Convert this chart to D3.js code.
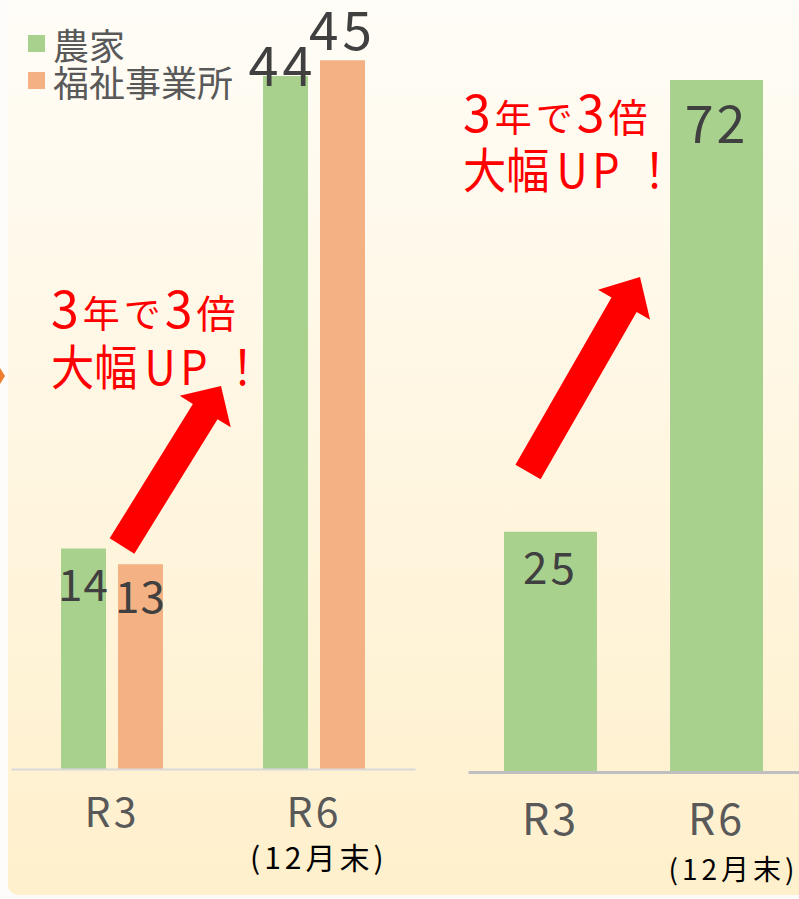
<!DOCTYPE html>
<html>
<head>
<meta charset="utf-8">
<script src="https://cdn.jsdelivr.net/npm/d3@7"></script>
<style>
  body { margin: 0; background: #fdfcfa; }
  svg { display: block; font-family: "Noto Sans CJK JP", "Noto Sans", sans-serif; }
</style>
</head>
<body>
<div id="chart"></div>
<script>
// ---- data ----
const periods = ["R3", "R6"];
const periodNotes = ["", "(12月末)"];
const seriesNames = ["農家", "福祉事業所"];
const farmers = [14, 44];
const welfare = [13, 45];

const rightPeriods = ["R3", "R6"];
const rightFarmers = [25, 72];

const calloutTop = ["3", "年で", "3", "倍"];
const calloutBottom = ["大幅", "UP", "！"];

// ---- style ----
const green = "#a9d18e", orange = "#f4b183";
const labelColor = "#404040", axisText = "#595959";
const W = 799, H = 899;

const svg = d3.select("#chart").append("svg")
    .attr("width", W)
    .attr("height", H);

const grad = svg.append("defs").append("linearGradient")
    .attr("id", "bg").attr("x1", 0).attr("y1", 0).attr("x2", 0).attr("y2", 1);
grad.append("stop").attr("offset", "0%").attr("stop-color", "#fffdf8");
grad.append("stop").attr("offset", "100%").attr("stop-color", "#fff0cc");

svg.append("rect")
    .attr("x", 8).attr("y", -20)
    .attr("width", W).attr("height", 915)
    .attr("rx", 10)
    .attr("fill", "url(#bg)");

// bit of an arrow from the previous slide panel
svg.append("path")
    .attr("d", "M0,368 L5,376 L0,384 Z")
    .attr("fill", "#ed7d31");

// ================= left chart =================
const xL = d3.scaleBand().domain(periods).range([11, 415])
    .paddingInner(0.495).paddingOuter(0.2475);
const xLs = d3.scaleBand().domain(seriesNames).range([0, xL.bandwidth()])
    .paddingInner(0.21);
const yL = d3.scaleLinear().domain([0, 48]).range([769, 13]);

const leftSeries = [
  {name: seriesNames[0], values: farmers, color: green, dy: [52, 10], dx: [0, -3], size: [44, 54]},
  {name: seriesNames[1], values: welfare, color: orange, dy: [49, -10], dx: [0, 0], size: [44, 53]}
];

const gL = svg.append("g");

leftSeries.forEach(s => {
  const bars = s.values.map((v, i) => ({p: periods[i], v: v, i: i}));
  gL.selectAll(null)
    .data(bars)
    .enter()
    .append("rect")
      .attr("x", d => xL(d.p) + xLs(s.name))
      .attr("y", d => yL(d.v))
      .attr("width", xLs.bandwidth())
      .attr("height", d => yL(0) - yL(d.v))
      .attr("fill", s.color);
  gL.selectAll(null)
    .data(bars)
    .enter()
    .append("text")
      .attr("x", d => xL(d.p) + xLs(s.name) + xLs.bandwidth() / 2 + s.dx[d.i])
      .attr("y", d => yL(d.v) + s.dy[d.i])
      .attr("text-anchor", "middle")
      .attr("font-size", d => s.size[d.i])
      .attr("letter-spacing", d => d.i == 1 ? 4 : 1)
      .attr("fill", labelColor)
      .text(d => d.v);
});

const axL = gL.append("g")
    .attr("transform", "translate(0," + yL(0) + ")")
    .call(d3.axisBottom(xL).tickSize(0).tickSizeOuter(0));
axL.select(".domain").attr("stroke", "#d9d9d9").attr("stroke-width", 2);
axL.selectAll(".tick text")
    .attr("y", 58).attr("dy", 0)
    .attr("font-size", 41)
    .attr("letter-spacing", 3)
    .attr("font-family", "\"Noto Sans CJK JP\", sans-serif")
    .attr("fill", axisText);
axL.selectAll(".tick")
  .filter((d, i) => periodNotes[i])
  .append("text")
    .attr("x", -64).attr("y", 100)
    .attr("text-anchor", "start")
    .attr("font-size", 30)
    .attr("letter-spacing", 4)
    .attr("font-family", "\"Noto Sans CJK JP\", sans-serif")
    .attr("fill", "#000")
    .text((d, i) => periodNotes[periods.indexOf(d)]);

// legend
const legend = gL.append("g");
leftSeries.forEach((s, i) => {
  legend.append("rect")
    .attr("x", 28).attr("y", 35 + i * 37)
    .attr("width", 17).attr("height", 17)
    .attr("fill", s.color);
  legend.append("text")
    .attr("x", 53).attr("y", 43.5 + i * 37)
    .attr("dominant-baseline", "central")
    .attr("font-size", 36)
    .attr("fill", axisText)
    .text(s.name);
});

// ================= right chart =================
const xR = d3.scaleBand().domain(rightPeriods).range([468, 799])
    .paddingInner(0.44).paddingOuter(0.2169);
const yR = d3.scaleLinear().domain([0, 72]).range([772, 80]);
const rightDy = [52, 63], rightSize = [44, 52];

const gR = svg.append("g");
gR.selectAll(".bar")
  .data(rightFarmers)
  .enter()
  .append("rect")
    .attr("class", "bar")
    .attr("x", (d, i) => xR(rightPeriods[i]))
    .attr("y", d => yR(d))
    .attr("width", xR.bandwidth())
    .attr("height", d => yR(0) - yR(d))
    .attr("fill", green);
gR.selectAll(".val")
  .data(rightFarmers)
  .enter()
  .append("text")
    .attr("class", "val")
    .attr("x", (d, i) => xR(rightPeriods[i]) + xR.bandwidth() / 2)
    .attr("y", (d, i) => yR(d) + rightDy[i])
    .attr("text-anchor", "middle")
    .attr("font-size", (d, i) => rightSize[i])
    .attr("letter-spacing", 3)
    .attr("fill", labelColor)
    .text(d => d);

const axR = gR.append("g")
    .attr("transform", "translate(0," + yR(0) + ")")
    .call(d3.axisBottom(xR).tickSize(0).tickSizeOuter(0));
axR.select(".domain").attr("stroke", "#bfbfbf").attr("stroke-width", 3);
axR.selectAll(".tick text")
    .attr("y", 63).attr("dy", 0)
    .attr("font-size", 43)
    .attr("letter-spacing", 3)
    .attr("font-family", "\"Noto Sans CJK JP\", sans-serif")
    .attr("fill", axisText);
axR.selectAll(".tick")
  .filter((d, i) => periodNotes[i])
  .append("text")
    .attr("x", -48).attr("y", 108)
    .attr("text-anchor", "start")
    .attr("font-size", 28)
    .attr("letter-spacing", 4)
    .attr("font-family", "\"Noto Sans CJK JP\", sans-serif")
    .attr("fill", "#000")
    .text((d, i) => periodNotes[rightPeriods.indexOf(d)]);

// ================= callouts =================
function callout(x, y1, y2) {
  const g = svg.append("g").attr("fill", "#ff0000");
  const t1 = g.append("text").attr("x", x).attr("y", y1).attr("letter-spacing", 4);
  const sizes1 = [50, 37, 50, 39];
  calloutTop.forEach((s, i) => t1.append("tspan").attr("font-size", sizes1[i]).text(s));
  const t2 = g.append("text")
      .attr("transform", "translate(" + x + "," + y2 + ") scale(0.9,1)");
  t2.append("tspan").attr("font-size", 48).text(calloutBottom[0]);
  t2.append("tspan").attr("font-size", 48).attr("dx", 8).attr("letter-spacing", 5).text(calloutBottom[1]);
  t2.append("tspan").attr("font-size", 48).attr("dx", 10).text(calloutBottom[2]);
}
callout(51, 328, 385);
callout(463, 132, 188);

function arrow(x1, y1, x2, y2, shaftW, headW, headL) {
  const dx = x2 - x1, dy = y2 - y1, len = Math.hypot(dx, dy);
  const ux = dx / len, uy = dy / len, px = -uy, py = ux;
  const bx = x2 - ux * headL, by = y2 - uy * headL;
  const pts = [
    [x1 + px * shaftW / 2, y1 + py * shaftW / 2],
    [bx + px * shaftW / 2, by + py * shaftW / 2],
    [bx + px * headW / 2, by + py * headW / 2],
    [x2, y2],
    [bx - px * headW / 2, by - py * headW / 2],
    [bx - px * shaftW / 2, by - py * shaftW / 2],
    [x1 - px * shaftW / 2, y1 - py * shaftW / 2]
  ];
  svg.append("path")
    .attr("d", d3.line()(pts) + "Z")
    .attr("fill", "#ff0000");
}
arrow(122, 546, 221, 386, 29, 60, 30);
arrow(528, 472, 640, 277, 29, 60, 32);
</script>
</body>
</html>
